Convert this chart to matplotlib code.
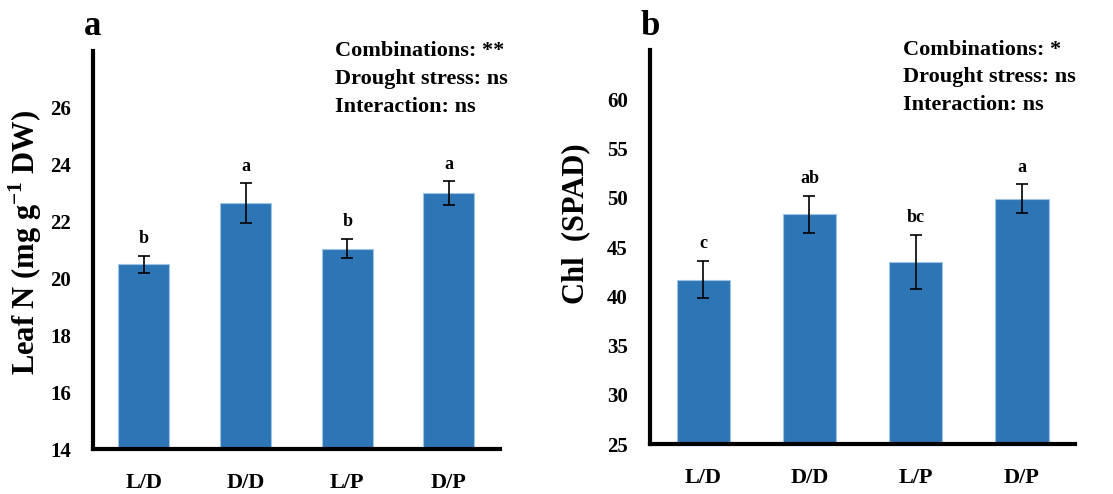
import numpy as np
import matplotlib
matplotlib.use("Agg")
import matplotlib.pyplot as plt

plt.rcParams['font.family'] = ['Liberation Serif', 'DejaVu Serif']
plt.rcParams['font.weight'] = 'bold'
plt.rcParams['mathtext.fontset'] = 'custom'
plt.rcParams['mathtext.rm'] = 'Liberation Serif:bold'
plt.rcParams['mathtext.bf'] = 'Liberation Serif:bold'

# data
groups = ["L/D", "D/D", "L/P", "D/P"]
leaf_n = [20.5, 22.65, 21.05, 23.0]
leaf_n_err = [0.3, 0.7, 0.35, 0.42]
leaf_n_letters = ["b", "a", "b", "a"]
chl = [41.7, 48.3, 43.5, 49.9]
chl_err = [1.85, 1.9, 2.75, 1.45]
chl_letters = ["c", "ab", "bc", "a"]
stats_a = ["Combinations: **", "Drought stress: ns", "Interaction: ns"]
stats_b = ["Combinations: *", "Drought stress: ns", "Interaction: ns"]

bar_col = '#2E75B6'

fig = plt.figure(figsize=(11.13, 4.94), dpi=100)
ax1 = fig.add_axes([0.0836, 0.091, 0.3654, 0.806])
ax2 = fig.add_axes([0.584, 0.101, 0.382, 0.798])


def panel(ax, vals, errs, letters, ylim, yticks, ylabel, stats, tag, letter_off, lx, ly):
    x = np.arange(len(groups))
    ax.bar(x, vals, width=0.5, color=bar_col, edgecolor='#9DC3E6', linewidth=0.8, zorder=2)
    ax.errorbar(x, vals, yerr=errs, fmt='none', ecolor='black', elinewidth=1.2,
                capsize=4, capthick=1.2, zorder=3)
    for xi, v, e, l in zip(x, vals, errs, letters):
        ax.text(xi, v + e + letter_off, l, ha='center', va='bottom', fontsize=13, fontweight='bold')
    ax.set_xlim(-0.5, 3.5)
    ax.set_ylim(*ylim)
    ax.set_yticks(yticks)
    ax.set_xticks(x)
    ax.set_xticklabels(groups)
    ax.tick_params(axis='both', length=0)
    ax.tick_params(axis='y', pad=16, labelsize=15)
    ax.tick_params(axis='x', pad=17, labelsize=16)
    for s in ['top', 'right']:
        ax.spines[s].set_visible(False)
    for s in ['left', 'bottom']:
        ax.spines[s].set_linewidth(3)
    ax.set_ylabel(ylabel, fontsize=22, fontweight='bold')
    ax.yaxis.set_label_coords(lx, ly)
    ax.text(0.0, 1.06, tag, transform=ax.transAxes, ha='center', va='center',
            fontsize=25, fontweight='bold')
    for i, s in enumerate(stats):
        ax.text(0.595, 1.0 - i * 0.07, s, transform=ax.transAxes, ha='left', va='center',
                fontsize=16, fontweight='bold')


panel(ax1, leaf_n, leaf_n_err, leaf_n_letters, (14, 28), np.arange(14, 27, 2),
      "Leaf N (mg g$^{-1}$ DW)", stats_a, "a", 0.3, -0.12, 0.52)
panel(ax2, chl, chl_err, chl_letters, (25, 65), np.arange(25, 61, 5),
      "Chl  (SPAD)", stats_b, "b", 0.9, -0.14, 0.56)

fig.savefig("out.png", dpi=100)
